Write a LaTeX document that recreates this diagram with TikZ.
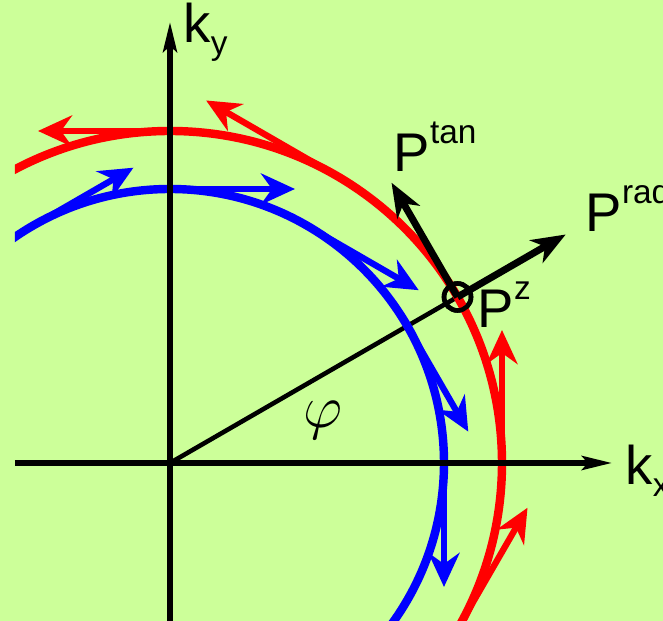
\documentclass[tikz,border=0pt]{standalone}
\usepackage{fontspec}
\setmainfont{Liberation Sans}
\usetikzlibrary{arrows.meta,calc}
\definecolor{bg}{RGB}{204,255,153}
\newcommand{\supx}[1]{\raisebox{8.2pt}{\fontsize{9.5}{10}\selectfont #1}}
\newcommand{\subx}[1]{\raisebox{-3.4pt}{\fontsize{9.5}{10}\selectfont #1}}
\tikzset{
  axisline/.style={line width=1.5pt,-{Stealth[length=3mm,width=1.4mm,inset=0.6mm]}},
  ring/.style={line width=2.4pt},
  tanarrow/.style={line width=1.8pt,-{Stealth[length=3.4mm,width=3.1mm,inset=1.1mm]}},
  vecarrow/.style={line width=2pt,-{Stealth[length=3.4mm,width=2.6mm,inset=1mm]}},
  lbl/.style={inner sep=0pt,anchor=base west,font=\fontsize{15.5}{18}\selectfont}
}

\begin{document}
\begin{tikzpicture}
\useasboundingbox[fill=bg] (-1.70,-1.58) rectangle (4.93,4.63);
\coordinate (o) at (0,0);
\node[draw,circle,line width=1.3pt,minimum size=0.27cm,inner sep=0pt] (pz) at (30:3.32) {};
\coordinate (xs) at (-1.55,0);
\coordinate (xe) at (4.42,0);
\coordinate (ys) at (0,-1.58);
\coordinate (ye) at (0,4.41);
\coordinate (rad) at (30:4.57);
\coordinate (tan) at ($(pz.center)+(120:1.32)$);
\draw[line width=1.3pt] (o) -- (pz.center);
\begin{scope}
\clip (-1.55,-1.58) rectangle (4.93,4.63);
\draw[ring,red] (o) circle (3.32);
\draw[ring,blue] (o) circle (2.74);
% red arrows, counterclockwise
\foreach \a/\l in {90/1.32,60/1.5,0/1.33,-30/1.4}{
  \path (\a:3.32) coordinate (rs\a) ++(\a+90:\l) coordinate (re\a);
  \draw[tanarrow,red] (rs\a) -- (re\a);
}
% blue arrows, clockwise
\foreach \a/\l in {120/1.16,90/1.25,60/1.29,30/1.22,0/1.24}{
  \path (\a:2.74) coordinate (bs\a) ++(\a-90:\l) coordinate (be\a);
  \draw[tanarrow,blue] (bs\a) -- (be\a);
}
\end{scope}
\draw[axisline] (xs) -- (xe);
\draw[axisline] (ys) -- (ye);
\node[draw,circle,line width=1.3pt,minimum size=0.27cm,inner sep=0pt] at (pz) {};
\draw[vecarrow] (pz.center) -- (rad);
\draw[vecarrow] (pz.center) -- (tan);
\node[lbl] (kx) at (4.55,-0.22) {k\subx{x}};
\node[lbl] (ky) at (0.13,4.20) {k\subx{y}};
\node[lbl] (prad) at (4.15,2.31) {P\supx{rad}};
\node[lbl] (ptan) at (2.23,2.91) {P\supx{tan}};
\node[lbl] (pzl) at (3.07,1.35) {P\supx{z}};
\node[font=\fontsize{17}{20}\selectfont,inner sep=0pt] (phi) at (1.53,0.43) {$\varphi$};
\end{tikzpicture}
\end{document}
